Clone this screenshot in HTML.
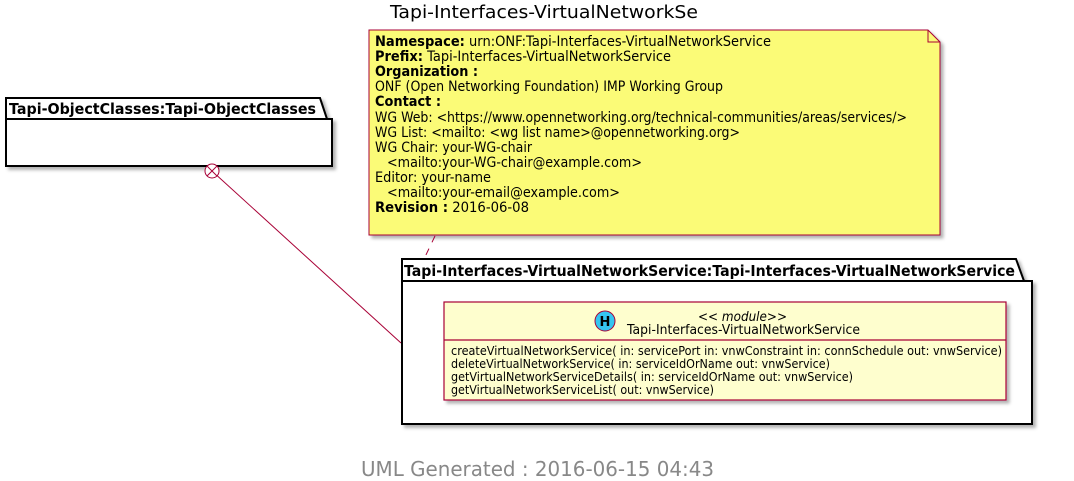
<!DOCTYPE html>
<html><head><meta charset="utf-8"><style>
html,body{margin:0;padding:0;background:#fff;}
svg{display:block;}
text{font-family:"DejaVu Sans","Liberation Sans",sans-serif;}
</style></head><body>
<svg width="1074" height="481" viewBox="0 0 1074 481" xmlns="http://www.w3.org/2000/svg">
<defs>
<filter id="sh" x="-5%" y="-5%" width="115%" height="120%"><feDropShadow dx="3" dy="3" stdDeviation="1.5" flood-color="#000" flood-opacity="0.3"/></filter>
</defs>
<text x="390" y="18" font-size="18" textLength="308" lengthAdjust="spacingAndGlyphs" fill="#000">Tapi-Interfaces-VirtualNetworkSe</text>

<!-- left package -->
<g filter="url(#sh)">
<path d="M6,98 L320,98 L327,119 L332,119 L332,166 L6,166 Z" fill="#fff" stroke="#000" stroke-width="2"/>
</g>
<line x1="6" y1="119" x2="327" y2="119" stroke="#000" stroke-width="2"/>
<text x="9" y="114" font-size="15" font-weight="bold" textLength="307" lengthAdjust="spacingAndGlyphs">Tapi-ObjectClasses:Tapi-ObjectClasses</text>

<!-- connector -->
<line x1="212" y1="171" x2="401" y2="343" stroke="#A80036" stroke-width="1"/>
<circle cx="212" cy="171" r="7" fill="#fff" stroke="#A80036" stroke-width="1"/>
<line x1="207" y1="166" x2="217" y2="176" stroke="#A80036"/>
<line x1="217" y1="166" x2="207" y2="176" stroke="#A80036"/>

<!-- note -->
<g filter="url(#sh)">
<path d="M369,30 L928,30 L940,42 L940,235 L369,235 Z" fill="#FBFB77" stroke="#A80036" stroke-width="1"/>
</g>
<path d="M928,30 L928,42 L940,42" fill="none" stroke="#A80036"/>
<line x1="435" y1="236" x2="424" y2="259" stroke="#A80036" stroke-dasharray="7,7"/>
<g font-size="14" fill="#000">
<text x="375" y="46" textLength="396" lengthAdjust="spacingAndGlyphs"><tspan font-weight="bold">Namespace:</tspan>  urn:ONF:Tapi-Interfaces-VirtualNetworkService</text>
<text x="375" y="61" textLength="296" lengthAdjust="spacingAndGlyphs"><tspan font-weight="bold">Prefix:</tspan>  Tapi-Interfaces-VirtualNetworkService</text>
<text x="375" y="76" font-weight="bold" textLength="103" lengthAdjust="spacingAndGlyphs">Organization :</text>
<text x="375" y="91" textLength="348" lengthAdjust="spacingAndGlyphs">ONF (Open Networking Foundation) IMP Working Group</text>
<text x="375" y="106" font-weight="bold" textLength="66" lengthAdjust="spacingAndGlyphs">Contact :</text>
<text x="375" y="122" textLength="532" lengthAdjust="spacingAndGlyphs">WG Web: &lt;https://www.opennetworking.org/technical-communities/areas/services/&gt;</text>
<text x="375" y="137" textLength="365" lengthAdjust="spacingAndGlyphs">WG List: &lt;mailto: &lt;wg list name&gt;@opennetworking.org&gt;</text>
<text x="375" y="152" textLength="157" lengthAdjust="spacingAndGlyphs">WG Chair: your-WG-chair</text>
<text x="387" y="167" textLength="255" lengthAdjust="spacingAndGlyphs">&lt;mailto:your-WG-chair@example.com&gt;</text>
<text x="375" y="182" textLength="116" lengthAdjust="spacingAndGlyphs">Editor: your-name</text>
<text x="387" y="197" textLength="233" lengthAdjust="spacingAndGlyphs">&lt;mailto:your-email@example.com&gt;</text>
<text x="375" y="212" textLength="154" lengthAdjust="spacingAndGlyphs"><tspan font-weight="bold">Revision :</tspan>  2016-06-08</text>
</g>

<!-- right package -->
<g filter="url(#sh)">
<path d="M402,259 L1016,259 L1024,281 L1032,281 L1032,424 L402,424 Z" fill="#fff" stroke="#000" stroke-width="2"/>
</g>
<line x1="402" y1="281" x2="1024" y2="281" stroke="#000" stroke-width="2"/>
<text x="404" y="276" font-size="15" font-weight="bold" textLength="611" lengthAdjust="spacingAndGlyphs">Tapi-Interfaces-VirtualNetworkService:Tapi-Interfaces-VirtualNetworkService</text>

<!-- class -->
<g filter="url(#sh)">
<rect x="444" y="302" width="562" height="98" fill="#FEFECE" stroke="#A80036" stroke-width="1.2"/>
</g>
<line x1="444" y1="340" x2="1006" y2="340" stroke="#A80036" stroke-width="1.2"/>
<circle cx="605" cy="321" r="10" fill="#35C5F0" stroke="#A80036" stroke-width="1"/>
<text x="605" y="326" font-size="13" font-weight="bold" text-anchor="middle">H</text>
<text x="698" y="321" font-size="13" font-style="italic" textLength="89" lengthAdjust="spacingAndGlyphs">&lt;&lt; module&gt;&gt;</text>
<text x="627" y="334" font-size="13" textLength="233" lengthAdjust="spacingAndGlyphs">Tapi-Interfaces-VirtualNetworkService</text>
<g font-size="12" fill="#000">
<text x="451" y="355" textLength="551" lengthAdjust="spacingAndGlyphs">createVirtualNetworkService( in: servicePort in: vnwConstraint in: connSchedule out: vnwService)</text>
<text x="451" y="368" textLength="379" lengthAdjust="spacingAndGlyphs">deleteVirtualNetworkService( in: serviceIdOrName out: vnwService)</text>
<text x="451" y="381" textLength="402" lengthAdjust="spacingAndGlyphs">getVirtualNetworkServiceDetails( in: serviceIdOrName out: vnwService)</text>
<text x="451" y="394" textLength="263" lengthAdjust="spacingAndGlyphs">getVirtualNetworkServiceList( out: vnwService)</text>
</g>

<text x="361" y="476" font-size="20" fill="#888" textLength="353" lengthAdjust="spacingAndGlyphs">UML Generated : 2016-06-15 04:43</text>
</svg>
</body></html>
